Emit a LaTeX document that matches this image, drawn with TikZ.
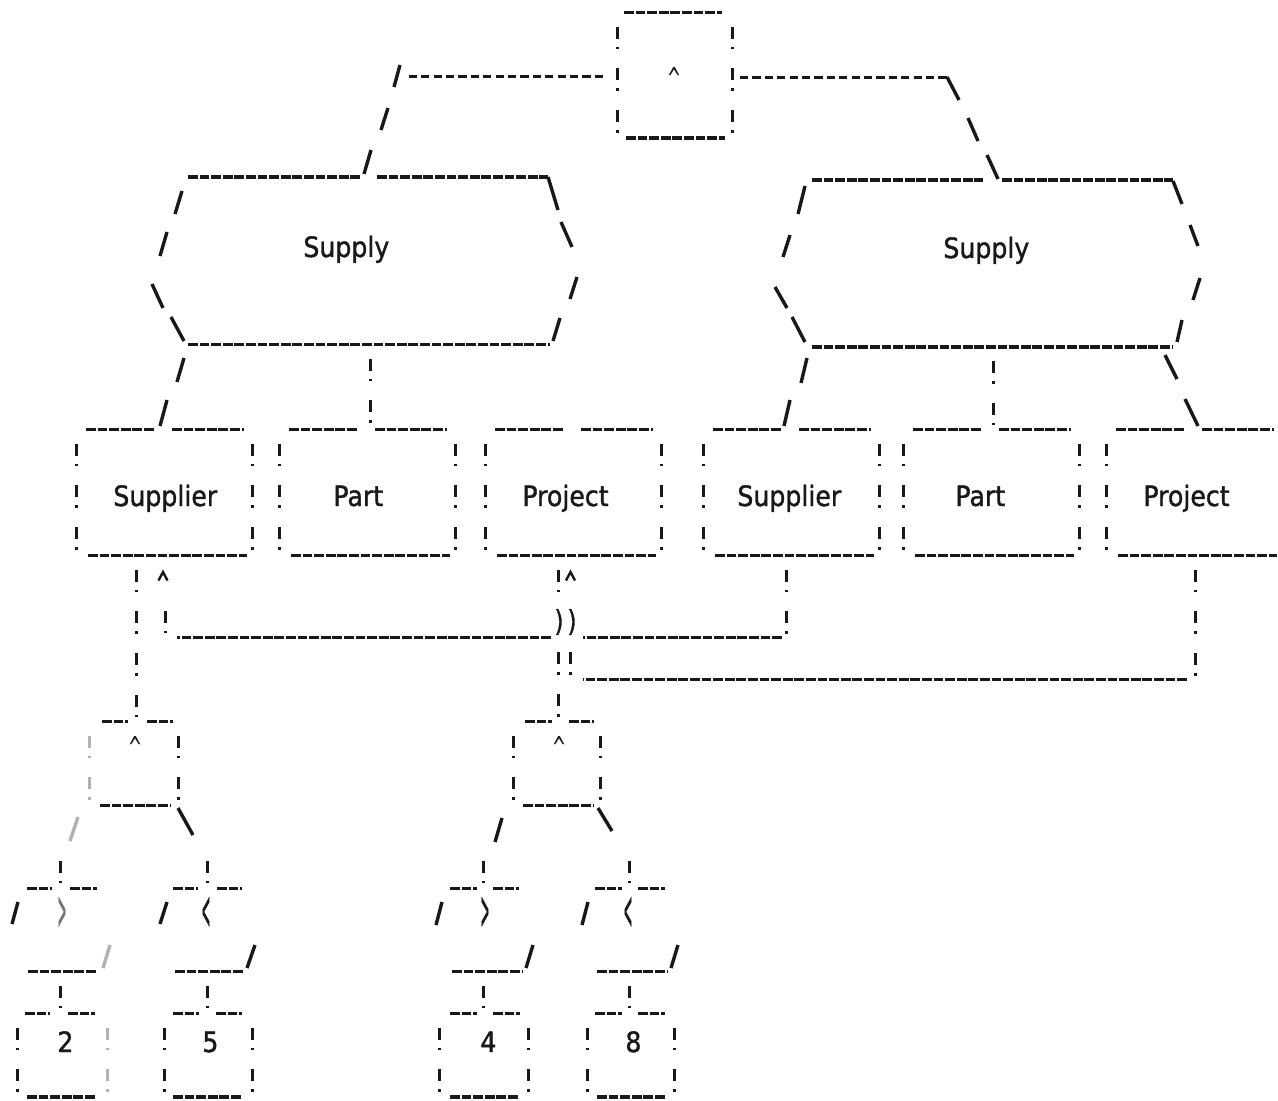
\documentclass[tikz,border=0pt]{standalone}
\usepackage{fontspec}
\usepackage{graphicx}
\newfontfamily\dvs[FakeStretch=0.9,FakeBold=1.3]{DejaVu Sans}
\newfontfamily\dvm{DejaVu Sans Mono}
% printed operator glyphs
\newcommand\andsym{\resizebox{6pt}{11pt}{\dvm\textasciicircum}}
\newcommand\hop{\resizebox{4.5pt}{11pt}{\dvs )}}
\newcommand\gtsym{\resizebox{4.5pt}{16pt}{\dvs >}}
\newcommand\ltsym{\resizebox{4.5pt}{16pt}{\dvs <}}

% one entity box of a Supply group: name, left x, label, label x
\newcommand\entbox[4]{%
  \node[frame, minimum width=88pt, minimum height=62.6pt, anchor=north west] (#1) at (#2,429.5) {};
  \draw[ul] ([xshift=5pt]#1.north west) -- ([xshift=39pt]#1.north west);
  \draw[ul] ([xshift=48pt]#1.north west) -- ([xshift=-4.5pt]#1.north east);
  \draw[bang] (#1.north west) -- (#1.south west);
  \draw[bang] (#1.north east) -- (#1.south east);
  \draw[ul] ([xshift=6pt]#1.south west) -- ([xshift=-3pt]#1.south east);
  \node[word] (#1-label) at (#4,506) {#3};
}

\begin{document}
\begin{tikzpicture}[x=0.5pt,y=-0.5pt,
  ink/.style={draw=black!90, line width=1.6pt, line cap=butt},
  ul/.style={ink, dash pattern=on 4.9pt off 0.9pt},
  hy/.style={ink, line width=1.5pt, dash pattern=on 4.1pt off 2.1pt},
  bang/.style={ink, line width=1.5pt, dash pattern=on 6pt off 4pt on 1.3pt off 9.55pt, shorten <=7pt},
  sl/.style={ink, line width=1.7pt},
  faint/.style={draw=black!30},
  tip/.style={ink, line width=1.2pt},
  word/.style={font=\dvs\fontsize{14}{16}\selectfont, inner sep=0pt, anchor=base west, text=black!90},
  sym/.style={inner sep=0pt, text=black!90},
  frame/.style={rectangle, draw=none, inner sep=0pt},
]
\fill[white] (0,0) rectangle (1278,1101);
\useasboundingbox (0,0) rectangle (1278,1101);

% ---------------- top AND node
\node[frame, minimum width=57.5pt, minimum height=62.65pt, anchor=north west] (and0) at (617,12.7) {};
\draw[ul] (624,12.7) -- (722,12.7);
\draw[bang] (and0.north west) -- (and0.south west);
\draw[bang] (and0.north east) -- (and0.south east);
\draw[ul] (626,138) -- (725,138);
\node[sym, anchor=base] (and0-op) at (674,90) {\andsym};

% connectors to the two Supply nodes
\draw[hy] (603,77) -- (409,77);
\draw[sl] (400,65) -- (394,87);
\draw[sl] (388,108) -- (381,130);
\draw[sl] (371,150) -- (364,174);
\draw[hy] (740,78) -- (947,78);
\draw[sl] (947,77) -- (959,100);
\draw[sl] (968,118) -- (978,141);
\draw[sl] (987,155) -- (998,179);

% ---------------- Supply (left)
\draw[ul] (188,177) -- (360,177);
\draw[ul] (377,177) -- (548,177);
\draw[ul] (188,344.5) -- (550,344.5);
\draw[sl] (182,191) -- (175,214);
\draw[sl] (167,232) -- (160,256);
\draw[sl] (152,284) -- (163,308);
\draw[sl] (171,317) -- (184,341);
\draw[sl] (548,177) -- (558,210);
\draw[sl] (561,222) -- (572,247);
\draw[sl] (577,277) -- (570,299);
\draw[sl] (560,318) -- (553,341);
\node[word] (supplyA) at (303,257) {Supply};

% ---------------- Supply (right)
\draw[ul] (812,180) -- (983,180);
\draw[ul] (1002,180) -- (1173,180);
\draw[ul] (812,347) -- (1173,347);
\draw[sl] (805,186) -- (798,214);
\draw[sl] (790,235) -- (783,257);
\draw[sl] (775,287) -- (787,308);
\draw[sl] (792,317) -- (805,342);
\draw[sl] (1173,181) -- (1182,204);
\draw[sl] (1190,225) -- (1198,246);
\draw[sl] (1200,278) -- (1193,300);
\draw[sl] (1182,320) -- (1177,342);
\node[word] (supplyB) at (943,258) {Supply};

% ---------------- entity boxes
\entbox{supplierA}{76}{Supplier}{113}
\entbox{partA}{279}{Part}{333}
\entbox{projectA}{485}{Project}{522}
\entbox{supplierB}{703}{Supplier}{737}
\entbox{partB}{903}{Part}{955}
\entbox{projectB}{1106}{Project}{1143}

% Supply -> entity connectors
\draw[sl] (184,358) -- (177,382);
\draw[sl] (167,400) -- (160,426);
\draw[bang] (370,344.5) -- (partA.north -| 370,0);
\draw[sl] (807,358) -- (801,383);
\draw[sl] (790,400) -- (784,426);
\draw[bang] (993,347) -- (partB.north -| 993,0);
\draw[sl] (1165,355) -- (1177,379);
\draw[sl] (1185,399) -- (1198,426);

% ---------------- join: Supplier (right) -> Supplier (left)
\draw[bang] (supplierB.south -| 786,0) -- (786,638);
\draw[ul] (782,637.5) -- (583,637.5);
\draw[ul] (551,637.5) -- (177,637.5);
\draw[bang] (165,596.5) -- (165,638);
\draw[tip] (158.5,580.5) -- (163,572) -- (167.5,580.5);

% ---------------- join: Project (right) -> Project (left)
\draw[bang] (projectB.south -| 1195,0) -- (1195,679.5);
\draw[ul] (1187,679.5) -- (583,679.5);
\draw[bang] (570,638.2) -- (570,679.5);
\node[sym] (hopB) at (572,622) {\hop};
\draw[tip] (566,580.5) -- (570.5,572) -- (575,580.5);

% ---------------- AND node under Supplier (left)
\draw[bang] (supplierA.south -| 136,0) -- (136,721.6);
\node[frame, minimum width=44.5pt, minimum height=42pt, anchor=north west] (andA) at (89,721.6) {};
\draw[ul] (102,721.6) -- (128,721.6);
\draw[ul] (147,721.6) -- (173,721.6);
\draw[bang, faint] (andA.north west) -- (andA.south west);
\draw[bang] (andA.north east) -- (andA.south east);
\draw[ul] (100,805.6) -- (170,805.6);
\node[sym, anchor=base] (andA-op) at (135,758) {\andsym};

% ---------------- AND node under Project (left)
\draw[bang] (projectA.south -| 558,0) -- (558,596.5);
\node[sym] (hopA) at (559,622) {\hop};
\draw[bang] (558,638.2) -- (558,721.6);
\node[frame, minimum width=43.5pt, minimum height=42pt, anchor=north west] (andB) at (513,721.6) {};
\draw[ul] (525,721.6) -- (552,721.6);
\draw[ul] (569,721.6) -- (594,721.6);
\draw[bang] (andB.north west) -- (andB.south west);
\draw[bang] (andB.north east) -- (andB.south east);
\draw[ul] (523,805.6) -- (593,805.6);
\node[sym, anchor=base] (andB-op) at (559,758) {\andsym};

% branches to the comparisons
\draw[sl, faint] (78,817) -- (70,841);
\draw[bang] (60,846.7) -- (60,888.4);
\draw[sl] (178,808) -- (193,835);
\draw[bang] (207,846.7) -- (207,888.4);
\draw[sl] (502,818) -- (495,842);
\draw[bang] (483,846.7) -- (483,888.4);
\draw[sl] (598,808) -- (612,831);
\draw[bang] (629,846.7) -- (629,888.4);

% ---------------- comparisons
% > (under Supplier)
\draw[ul] (27,888.4) -- (52,888.4);
\draw[ul] (70,888.4) -- (97,888.4);
\draw[sl] (18,902) -- (12,924);
\node[sym, text=black!55] (gtA) at (62,913) {\gtsym};
\draw[ul] (28,971.8) -- (97,971.8);
\draw[sl, faint] (110,945) -- (103,968);
% < (under Supplier)
\draw[ul] (173,888.4) -- (198,888.4);
\draw[ul] (217,888.4) -- (242,888.4);
\draw[sl] (167,902) -- (160,924);
\node[sym] (ltA) at (206,913) {\ltsym};
\draw[ul] (175,971.8) -- (243,971.8);
\draw[sl] (255,945) -- (247,968);
% > (under Project)
\draw[ul] (450,888.4) -- (477,888.4);
\draw[ul] (493,888.4) -- (519,888.4);
\draw[sl] (442,902) -- (436,925);
\node[sym] (gtB) at (485,913) {\gtsym};
\draw[ul] (452,971.8) -- (522,971.8);
\draw[sl] (533,945) -- (526,968);
% < (under Project)
\draw[ul] (595,888.4) -- (622,888.4);
\draw[ul] (638,888.4) -- (665,888.4);
\draw[sl] (588,902) -- (582,925);
\node[sym] (ltB) at (628,913) {\ltsym};
\draw[ul] (597,971.8) -- (667,971.8);
\draw[sl] (678,945) -- (671,968);

% comparison -> value
\draw[bang] (60,971.8) -- (60,1013.5);
\draw[bang] (207,971.8) -- (207,1013.5);
\draw[bang] (483,971.8) -- (483,1013.5);
\draw[bang] (629,971.8) -- (629,1013.5);

% ---------------- values
\draw[ul] (25,1013.5) -- (50,1013.5);
\draw[ul] (68,1013.5) -- (95,1013.5);
\draw[bang] (17,1013.5) -- (17,1097);
\draw[bang, faint] (107,1013.5) -- (107,1097);
\draw[ul] (27,1097) -- (95,1097);
\node[word] (vTwo) at (57,1052) {2};

\draw[ul] (173,1013.5) -- (199,1013.5);
\draw[ul] (216,1013.5) -- (242,1013.5);
\draw[bang] (164,1013.5) -- (164,1097);
\draw[bang] (252,1013.5) -- (252,1097);
\draw[ul] (173,1097) -- (242,1097);
\node[word] (vFive) at (202,1052) {5};

\draw[ul] (450,1013.5) -- (477,1013.5);
\draw[ul] (493,1013.5) -- (520,1013.5);
\draw[bang] (439,1013.5) -- (439,1097);
\draw[bang] (528,1013.5) -- (528,1097);
\draw[ul] (450,1097) -- (518,1097);
\node[word] (vFour) at (480,1052) {4};

\draw[ul] (595,1013.5) -- (622,1013.5);
\draw[ul] (638,1013.5) -- (665,1013.5);
\draw[bang] (587,1013.5) -- (587,1097);
\draw[bang] (674,1013.5) -- (674,1097);
\draw[ul] (597,1097) -- (665,1097);
\node[word] (vEight) at (625,1052) {8};
\end{tikzpicture}
\end{document}
